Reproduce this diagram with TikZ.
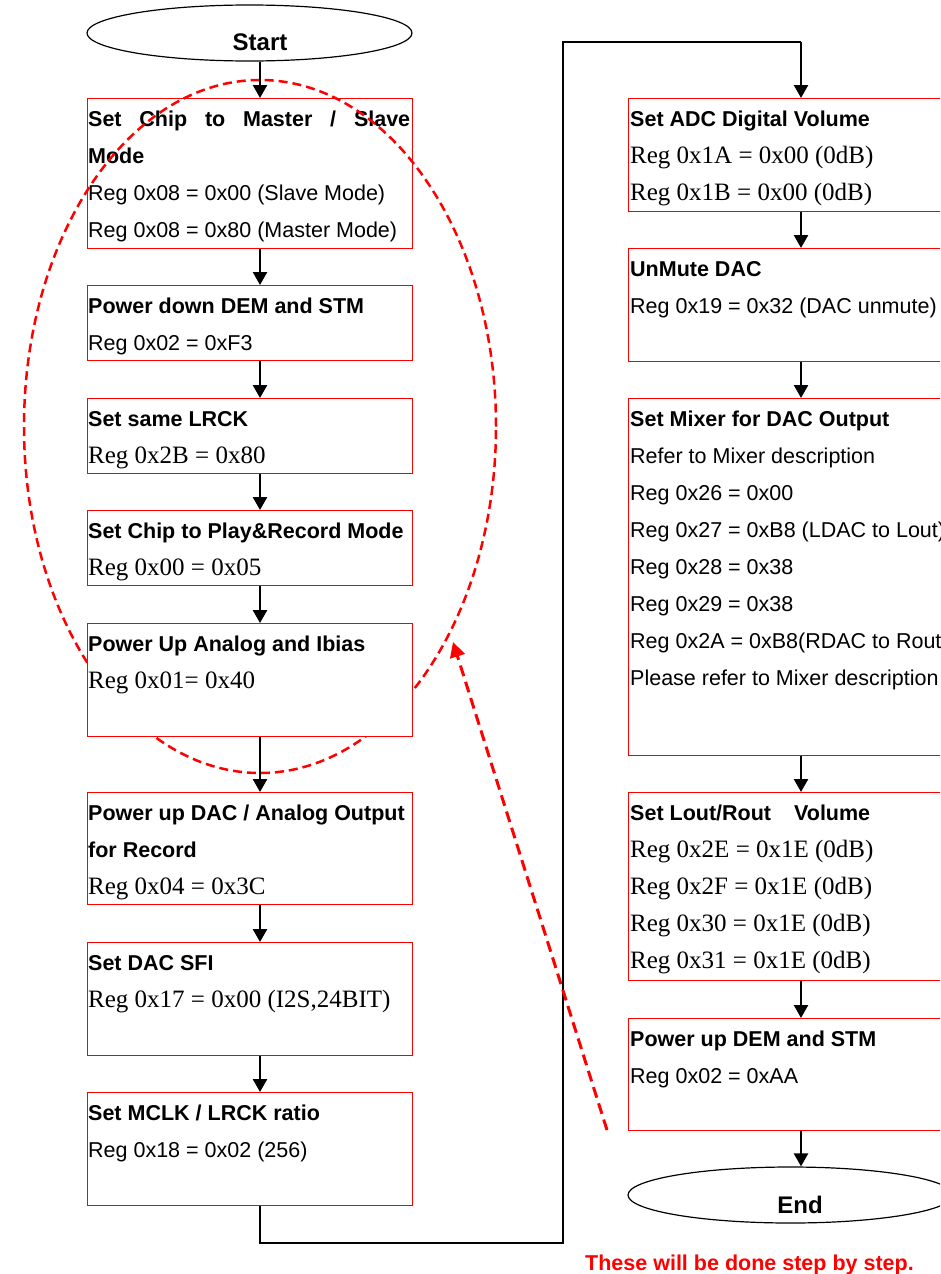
\documentclass[tikz,border=0pt]{standalone}
\usepackage{fontspec}
\setmainfont{Liberation Sans}
\newfontfamily\tnr{Liberation Serif}
\usetikzlibrary{arrows.meta,shapes.geometric}
\begin{document}
\begin{tikzpicture}[x=1pt,y=-1pt,
  box/.style={draw=red, line width=1.1pt, fill=white, inner sep=0pt, anchor=north west, minimum width=325pt},
  term/.style={draw=black, line width=1.2pt, fill=white, ellipse, inner sep=0pt, minimum width=325pt, minimum height=56pt},
  sn/.style={anchor=base west, inner sep=0pt, font=\fontsize{21.5}{26}\selectfont},
  hd/.style={sn, font=\fontsize{21.5}{26}\selectfont\bfseries},
  tm/.style={sn, font=\tnr\fontsize{25}{30}\selectfont},
  termtext/.style={anchor=base, inner sep=0pt, font=\fontsize{24}{28}\selectfont\bfseries},
  arr/.style={line width=2.5pt, -{Triangle[length=13pt,width=14pt]}},
  loopline/.style={line width=1.5pt},
  reddash/.style={draw=red, line width=2.5pt, dash pattern=on 9pt off 5pt},
  redarr/.style={draw=red, line width=3pt, dash pattern=on 11pt off 6pt, -{Triangle[length=15pt,width=15pt]}, red},
  note/.style={anchor=base west, inner sep=0pt, text=red, font=\fontsize{21.5}{26}\selectfont\bfseries}]
\path[use as bounding box] (0,0) rectangle (940,1274);
\clip (0,0) rectangle (940,1274);

\coordinate (colL) at (260,0);
\coordinate (colR) at (801,0);

% Start
\node[term] (start) at (249.5,33) {};
\node[termtext] (starttext) at (260,50) {Start};

% box 1
\node[box, minimum height=150pt] (b1) at (87,98) {};
\node[hd] (b1a) at (88,126) {\makebox[322pt][s]{Set Chip to Master / Slave}};
\node[hd] (b1b) at (88,163) {Mode};
\node[sn] (b1c) at (88,200) {Reg 0x08 = 0x00 (Slave Mode)};
\node[sn] (b1d) at (88,237) {Reg 0x08 = 0x80 (Master Mode)};

% dashed grouping ellipse
\draw[reddash] (260,426.5) ellipse [x radius=236pt, y radius=346.5pt];

% box 2
\node[box, minimum height=75pt] (b2) at (87,285) {};
\node[hd] (b2a) at (88,313) {Power down DEM and STM};
\node[sn] (b2b) at (88,350) {Reg 0x02 = 0xF3};

% box 3
\node[box, minimum height=75pt] (b3) at (87,398) {};
\node[hd] (b3a) at (88,426) {Set same LRCK};
\node[tm] (b3b) at (88,463) {Reg 0x2B = 0x80};

% box 4
\node[box, minimum height=75pt] (b4) at (87,510) {};
\node[hd] (b4a) at (88,538) {Set Chip to Play\&Record Mode};
\node[tm] (b4b) at (88,575) {Reg 0x00 = 0x05};

% box 5
\node[box, minimum height=113pt] (b5) at (87,623) {};
\node[hd] (b5a) at (88,651) {Power Up Analog and Ibias};
\node[tm] (b5b) at (88,688) {Reg 0x01= 0x40};

% box 6
\node[box, minimum height=112pt] (b6) at (87,792) {};
\node[hd] (b6a) at (88,820) {Power up DAC / Analog Output};
\node[hd] (b6b) at (88,857) {for Record};
\node[tm] (b6c) at (88,894) {Reg 0x04 = 0x3C};

% box 7
\node[box, minimum height=113pt] (b7) at (87,942) {};
\node[hd] (b7a) at (88,970) {Set DAC SFI};
\node[tm] (b7b) at (88,1007) {Reg 0x17 = 0x00 (I2S,24BIT)};

% box 8
\node[box, minimum height=113pt] (b8) at (87,1092) {};
\node[hd] (b8a) at (88,1120) {Set MCLK / LRCK ratio};
\node[sn] (b8b) at (88,1157) {Reg 0x18 = 0x02 (256)};

% right column
\node[box, minimum height=113pt] (r1) at (628,98) {};
\node[hd] (r1a) at (630,126) {Set ADC Digital Volume};
\node[tm] (r1b) at (630,163) {Reg 0x1A = 0x00 (0dB)};
\node[tm] (r1c) at (630,200) {Reg 0x1B = 0x00 (0dB)};

\node[box, minimum height=113pt] (r2) at (628,248) {};
\node[hd] (r2a) at (630,276) {UnMute DAC};
\node[sn] (r2b) at (630,313) {Reg 0x19 = 0x32 (DAC unmute)};

\node[box, minimum height=357pt] (r3) at (628,398) {};
\node[hd] (r3a) at (630,426) {Set Mixer for DAC Output};
\node[sn] (r3b) at (630,463) {Refer to Mixer description};
\node[sn] (r3c) at (630,500) {Reg 0x26 = 0x00};
\node[sn] (r3d) at (630,537) {Reg 0x27 = 0xB8 (LDAC to Lout)};
\node[sn] (r3e) at (630,574) {Reg 0x28 = 0x38};
\node[sn] (r3f) at (630,611) {Reg 0x29 = 0x38};
\node[sn] (r3g) at (630,648) {Reg 0x2A = 0xB8(RDAC to Rout)};
\node[sn] (r3h) at (630,685) {Please refer to Mixer description};

\node[box, minimum height=188pt] (r4) at (628,792) {};
\node[hd] (r4a) at (630,820) {Set Lout/Rout\hspace*{17pt} Volume};
\node[tm] (r4b) at (630,857) {Reg 0x2E = 0x1E (0dB)};
\node[tm] (r4c) at (630,894) {Reg 0x2F = 0x1E (0dB)};
\node[tm] (r4d) at (630,931) {Reg 0x30 = 0x1E (0dB)};
\node[tm] (r4e) at (630,968) {Reg 0x31 = 0x1E (0dB)};

\node[box, minimum height=112pt] (r5) at (628,1018) {};
\node[hd] (r5a) at (630,1046) {Power up DEM and STM};
\node[sn] (r5b) at (630,1083) {Reg 0x02 = 0xAA};

% End
\node[term] (end) at (790.5,1195) {};
\node[termtext] (endtext) at (800,1213) {End};

% connectors
\draw[arr] (start.south -| colL) -- (b1.north -| colL);
\draw[arr] (b1.south -| colL) -- (b2.north -| colL);
\draw[arr] (b2.south -| colL) -- (b3.north -| colL);
\draw[arr] (b3.south -| colL) -- (b4.north -| colL);
\draw[arr] (b4.south -| colL) -- (b5.north -| colL);
\draw[arr] (b5.south -| colL) -- (b6.north -| colL);
\draw[arr] (b6.south -| colL) -- (b7.north -| colL);
\draw[arr] (b7.south -| colL) -- (b8.north -| colL);

\coordinate (lb) at (563,1243);
\coordinate (lt) at (563,42);
\draw[loopline] (b8.south -| colL) |- (lb) -- (lt) -- (lt -| colR);
\draw[arr] (lt -| colR) -- (r1.north -| colR);
\draw[arr] (r1.south -| colR) -- (r2.north -| colR);
\draw[arr] (r2.south -| colR) -- (r3.north -| colR);
\draw[arr] (r3.south -| colR) -- (r4.north -| colR);
\draw[arr] (r4.south -| colR) -- (r5.north -| colR);
\draw[arr] (r5.south -| colR) -- (end.north -| colR);

% red dashed arrow
\coordinate (da) at (607,1130);
\coordinate (db) at (453,642);
\draw[redarr] (da) -- (db);

\node[note] (notetext) at (585,1270) {These will be done step by step.};
\end{tikzpicture}
\end{document}
